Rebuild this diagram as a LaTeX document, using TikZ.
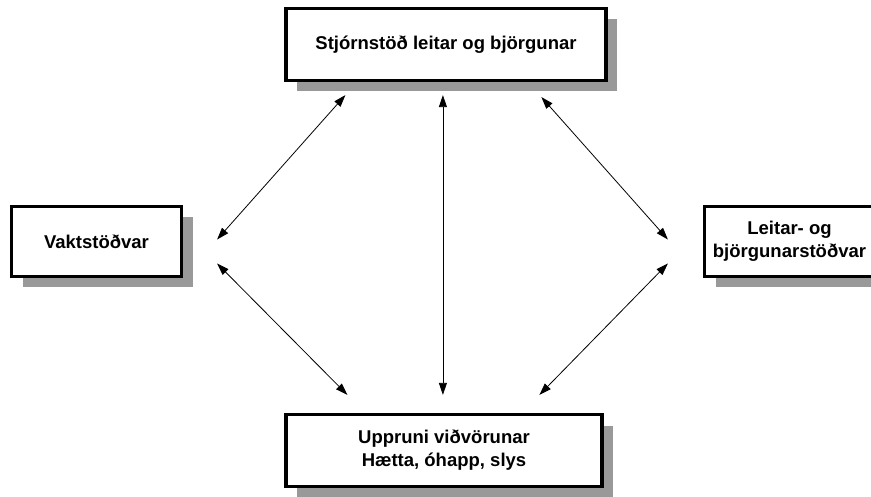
\documentclass[tikz,border=0pt]{standalone}
\usepackage{fontspec}
\setmainfont{Liberation Sans}
\usetikzlibrary{arrows.meta,shadows}
\begin{document}
\begin{tikzpicture}[x=1pt,y=-1pt,
  box/.style={draw=black, line width=3.2pt, fill=white, inner sep=0pt,
    font=\bfseries\fontsize{18.5}{23}\selectfont, align=center,
    general shadow={shadow xshift=11pt, shadow yshift=-11pt, fill=black!40, opacity=1}},
  link/.style={line width=0.8pt, {Triangle[length=12pt,width=8pt]}-{Triangle[length=12pt,width=8pt]}}]
\clip (0,0) rectangle (871,497);
\fill[white] (0,0) rectangle (871,497);
% boxes
\node[box, minimum width=320pt, minimum height=72pt] (top) at (446,44.5) {Stjórnstöð leitar og björgunar};
\node[box, minimum width=170pt, minimum height=70pt] (left) at (96.5,241.5) {Vaktstöðvar};
\node[box, minimum width=170pt, minimum height=70pt] (right) at (789.5,241.5) {Leitar- og\\björgunarstöðvar};
\node[box, minimum width=316pt, minimum height=72pt] (bottom) at (444,450.5) {Uppruni viðvörunar\\Hætta, óhapp, slys};
% connector ends
\coordinate (tl) at ([shift={(61pt,-13pt)}]top.south west);
\coordinate (tm) at ([shift={(158.5pt,-13pt)}]top.south west);
\coordinate (tr) at ([shift={(257pt,-15pt)}]top.south west);
\coordinate (lu) at ([shift={(34pt,2pt)}]left.east);
\coordinate (ld) at ([shift={(34pt,-22pt)}]left.east);
\coordinate (ru) at ([shift={(-35pt,2pt)}]right.west);
\coordinate (rd) at ([shift={(-35pt,-22pt)}]right.west);
\coordinate (bl) at ([shift={(63pt,18pt)}]bottom.north west);
\coordinate (bm) at ([shift={(158.5pt,18pt)}]bottom.north west);
\coordinate (br) at ([shift={(255pt,18pt)}]bottom.north west);
% connectors
\draw[link] (tl) -- (lu);
\draw[link] (tm) -- (bm);
\draw[link] (tr) -- (ru);
\draw[link] (ld) -- (bl);
\draw[link] (rd) -- (br);
\end{tikzpicture}
\end{document}
